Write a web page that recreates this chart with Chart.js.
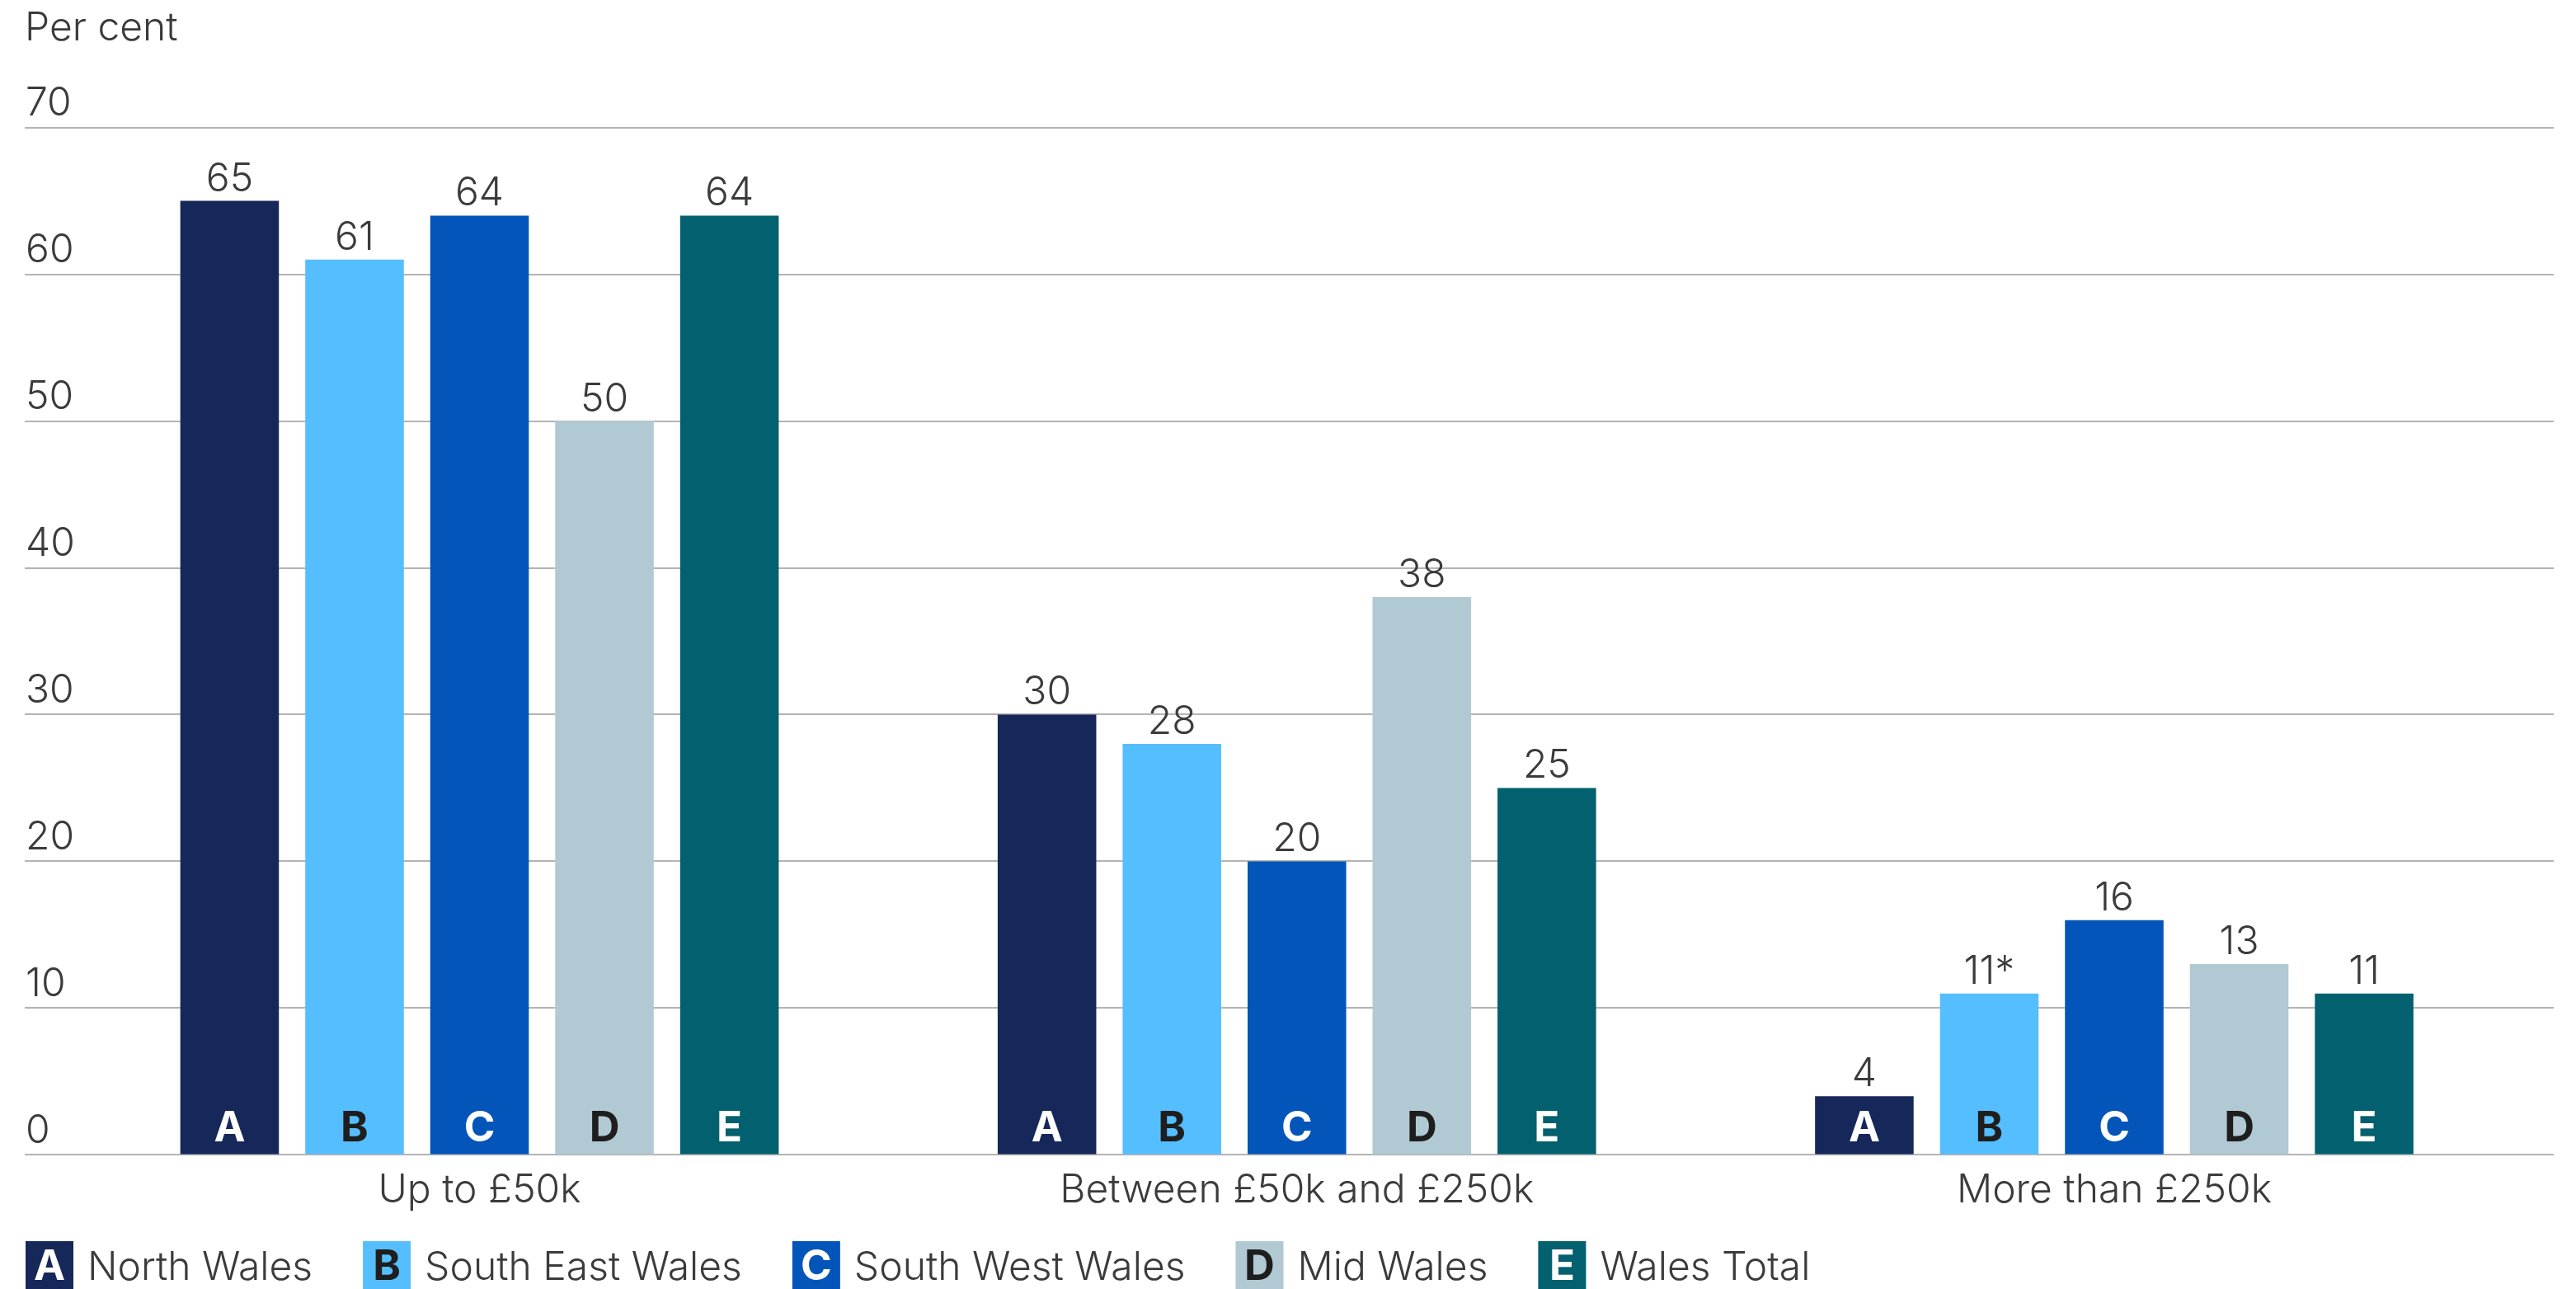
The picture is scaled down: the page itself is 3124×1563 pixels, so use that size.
<!doctype html>
<html>

<head>
  <meta charset="utf-8">
  <script src="https://cdn.jsdelivr.net/npm/chart.js@4.4.1/dist/chart.umd.min.js"></script>
  <style>
    html, body { margin: 0; padding: 0; background: #fff; }
    #wrap { width: 3124px; height: 1563px; }
  </style>
</head>

<body>
  <div id="wrap"><canvas id="chart" width="3124" height="1563"></canvas></div>
  <script>
    // size bands along the x axis
    const bands = ['Up to £50k', 'Between £50k and £250k', 'More than £250k'];
    const regions = ['North Wales', 'South East Wales', 'South West Wales', 'Mid Wales', 'Wales Total'];
    const letters = ['A', 'B', 'C', 'D', 'E'];

    // per cent of firms in each band
    const northWales = [65, 30, 4];
    const southEastWales = [61, 28, 11];
    const southWestWales = [64, 20, 16];
    const midWales = [50, 38, 13];
    const walesTotal = [64, 25, 11];

    // '*' after a value (small sample)
    const southEastMarks = ['', '', '*'];

    const barColours = ['#16285a', '#55beff', '#0455b9', '#b1c9d3', '#03606f'];
    const letterColours = ['#ffffff', '#1e1e1e', '#ffffff', '#1e1e1e', '#ffffff'];
    const textColour = '#3b3b3b';
    const family = 'Inter, "Noto Sans", sans-serif';
    const fontSize = 48;

    const seriesValues = [northWales, southEastWales, southWestWales, midWales, walesTotal];
    const seriesMarks = [null, southEastMarks, null, null, null];

    const lightFont = { family, size: fontSize, weight: '300', lineHeight: 1.2 };

    // value on top of each bar, region letter at its foot
    const barText = {
      id: 'barText',
      afterDatasetsDraw(chart) {
        const ctx = chart.ctx;
        ctx.save();
        ctx.textAlign = 'center';
        ctx.textBaseline = 'alphabetic';
        chart.data.datasets.forEach((ds, di) => {
          const marks = seriesMarks[di];
          chart.getDatasetMeta(di).data.forEach((bar, i) => {
            ctx.font = `300 ${fontSize}px ${family}`;
            ctx.fillStyle = textColour;
            ctx.fillText(String(ds.data[i].y) + (marks ? marks[i] : ''), bar.x, bar.y - 12);
            ctx.font = `700 51px ${family}`;
            ctx.fillStyle = letterColours[di];
            ctx.fillText(letters[di], bar.x, bar.base - 15);
          });
        });
        ctx.restore();
      }
    };

    // key along the bottom: coloured square with the letter, then the name
    const keyRow = {
      id: 'keyRow',
      afterDraw(chart) {
        const ctx = chart.ctx;
        const size = 58;
        const top = chart.height - size;
        let x = chart.chartArea.left + 1;
        ctx.save();
        ctx.textBaseline = 'alphabetic';
        chart.data.datasets.forEach((ds, di) => {
          ctx.fillStyle = barColours[di];
          ctx.fillRect(x, top, size, size);
          ctx.font = `700 51px ${family}`;
          ctx.textAlign = 'center';
          ctx.fillStyle = letterColours[di];
          ctx.fillText(letters[di], x + size / 2, top + 47);
          ctx.font = `300 ${fontSize}px ${family}`;
          ctx.textAlign = 'left';
          ctx.fillStyle = textColour;
          const tx = x + size + 17;
          ctx.fillText(ds.label, tx, top + 47);
          x = tx + ctx.measureText(ds.label).width + 61;
        });
        ctx.restore();
      }
    };

    const chart = new Chart(document.getElementById('chart'), {
      type: 'bar',
      data: {
        datasets: regions.map((name, di) => ({
          label: name,
          data: seriesValues[di].map((v, i) => ({ x: i, y: v })),
          backgroundColor: barColours[di],
          borderWidth: 0
        }))
      },
      options: {
        responsive: false,
        animation: false,
        layout: { padding: { left: 30, right: 27, top: 0, bottom: 85 } },
        datasets: { bar: { categoryPercentage: 0.7644, barPercentage: 0.789 } },
        plugins: {
          legend: { display: false },
          tooltip: { enabled: false },
          title: {
            display: true,
            text: 'Per cent',
            align: 'start',
            color: textColour,
            font: lightFont,
            padding: { top: 6, bottom: 91 }
          }
        },
        scales: {
          x: {
            type: 'linear',
            offset: false,
            bounds: 'data',
            min: -0.5564,
            max: 2.5377,
            grid: { display: false },
            border: { display: false },
            afterBuildTicks: (scale) => { scale.ticks = bands.map((b, i) => ({ value: i })); },
            ticks: {
              callback: (v) => bands[v],
              padding: 6,
              maxRotation: 0,
              autoSkip: false,
              color: textColour,
              font: lightFont
            }
          },
          y: {
            min: 0,
            max: 70,
            afterFit: (scale) => { scale.width = 0; },
            grid: { color: '#b4b4b4', lineWidth: 2, drawTicks: false },
            border: { display: false },
            ticks: {
              stepSize: 10,
              mirror: true,
              padding: 1,
              labelOffset: -29,
              color: textColour,
              font: lightFont
            }
          }
        }
      },
      plugins: [barText, keyRow]
    });
  </script>
</body>

</html>
